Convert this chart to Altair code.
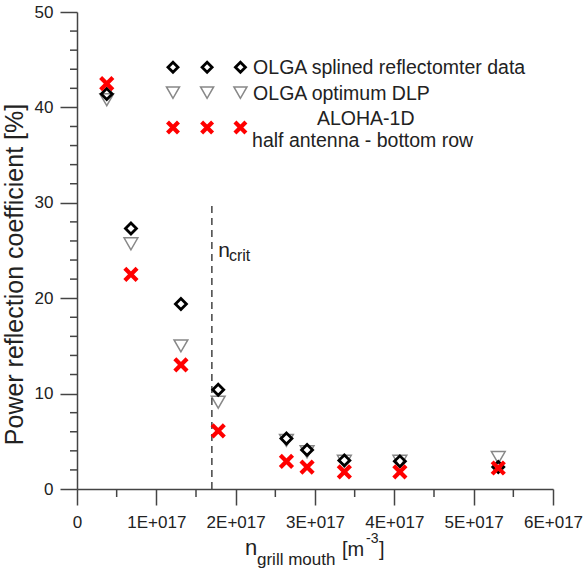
import altair as alt
import pandas as pd

# Electron density at the grill mouth [m^-3]
density = [0.375e17, 0.68e17, 1.31e17, 1.78e17, 2.64e17, 2.90e17, 3.37e17, 4.07e17, 5.31e17]
# Power reflection coefficient [%]
olga_splined = [41.4, 27.3, 19.4, 10.4, 5.3, 4.1, 3.0, 2.9, 2.3]
olga_dlp = [40.8, 25.7, 15.0, 9.1, 5.1, 3.9, 2.9, 2.9, 3.3]
aloha = [42.5, 22.5, 13.0, 6.1, 2.9, 2.3, 1.8, 1.8, 2.2]

# Critical density marker
n_crit = 1.70e17
n_crit_top = 30

# Legend layout (data coordinates)
legend_x = [1.21e17, 1.64e17, 2.06e17]
legend_rows = [44.2, 41.55, 37.9]
legend_text_x = 2.22e17

x_ticks = [0, 1e17, 2e17, 3e17, 4e17, 5e17, 6e17]
x_minor = [0.5e17, 1.5e17, 2.5e17, 3.5e17, 4.5e17, 5.5e17]
y_ticks = [0, 10, 20, 30, 40, 50]
y_minor = [v for v in range(0, 51, 2) if v % 10]

FONT = "Liberation Sans"
AX = "#444444"
TXT = "#222222"
CROSS = "M-1,-1L1,1M-1,1L1,-1"
PLOT_W = 476
PLOT_H = 477

df = pd.DataFrame({"n": density, "splined": olga_splined, "dlp": olga_dlp, "aloha": aloha})

xs = alt.Scale(domain=[0, 6e17], nice=False, zero=False)
ys = alt.Scale(domain=[0, 50], nice=False, zero=False)

x_main = alt.Axis(
    values=x_ticks, orient="bottom", title=None, grid=False,
    labelExpr="datum.value == 0 ? '0' : format(datum.value / 1e17, 'd') + 'E+017'",
    tickSize=16, tickWidth=1.5, tickColor=AX, domainColor=AX, domainWidth=1.5,
    labelFont=FONT, labelFontSize=17, labelColor=TXT, labelPadding=9,
    labelFlush=False, labelOverlap=False,
)
y_main = alt.Axis(
    values=y_ticks, orient="left", grid=False,
    title="Power reflection coefficient [%]", titleFont=FONT, titleFontSize=25,
    titleFontWeight="normal", titleColor=TXT, titleX=-63, titleY=262,
    titleAngle=-90, titleAlign="center", titleBaseline="middle",
    tickSize=17, tickWidth=1.5, tickColor=AX, domainColor=AX, domainWidth=1.5,
    labelFont=FONT, labelFontSize=17, labelColor=TXT, labelPadding=7,
    labelFlush=False, labelOverlap=False,
)

# Gray triangles first: this layer carries the axes
tri = alt.Chart(df).mark_point(
    shape="triangle-down", size=190, filled=False, stroke="#888888", strokeWidth=1.5, opacity=1
).encode(x=alt.X("n:Q", scale=xs, axis=x_main), y=alt.Y("dlp:Q", scale=ys, axis=y_main))

# Minor ticks drawn as short rules just outside the axes
x_minor_ticks = alt.Chart(pd.DataFrame({"v": x_minor})).mark_rule(
    color=AX, strokeWidth=1.5
).encode(
    x=alt.X("v:Q", scale=xs, axis=None),
    y=alt.value(PLOT_H), y2=alt.value(PLOT_H + 8),
)
y_minor_ticks = alt.Chart(pd.DataFrame({"v": y_minor})).mark_rule(
    color=AX, strokeWidth=1.5
).encode(
    y=alt.Y("v:Q", scale=ys, axis=None),
    x=alt.value(0), x2=alt.value(-7),
)

# Critical density line
crit = alt.Chart(pd.DataFrame({"n": [n_crit], "lo": [0], "hi": [n_crit_top]})).mark_rule(
    color=AX, strokeWidth=1.5, strokeDash=[7, 5]
).encode(
    x=alt.X("n:Q", scale=xs, axis=None),
    y=alt.Y("lo:Q", scale=ys, axis=None),
    y2="hi:Q",
)

dia = alt.Chart(df).mark_point(
    shape="diamond", size=120, filled=False, stroke="black", strokeWidth=2.8, opacity=1
).encode(x=alt.X("n:Q", scale=xs, axis=None), y=alt.Y("splined:Q", scale=ys, axis=None))

crs = alt.Chart(df).mark_point(
    shape=CROSS, size=150, filled=False, stroke="#ff0000", strokeWidth=4.2, opacity=1
).encode(x=alt.X("n:Q", scale=xs, axis=None), y=alt.Y("aloha:Q", scale=ys, axis=None))

# Legend symbols: three per row
leg_df = pd.DataFrame({
    "x": legend_x * 3,
    "y": [legend_rows[0]] * 3 + [legend_rows[1]] * 3 + [legend_rows[2]] * 3,
    "row": ["dia"] * 3 + ["tri"] * 3 + ["crs"] * 3,
})
leg_base = alt.Chart(leg_df).encode(
    x=alt.X("x:Q", scale=xs, axis=None), y=alt.Y("y:Q", scale=ys, axis=None)
)
leg_dia = leg_base.transform_filter("datum.row == 'dia'").mark_point(
    shape="diamond", size=100, filled=False, stroke="black", strokeWidth=2.8, opacity=1
)
leg_tri = leg_base.transform_filter("datum.row == 'tri'").mark_point(
    shape="triangle-down", size=170, filled=False, stroke="#888888", strokeWidth=1.5, opacity=1
)
leg_crs = leg_base.transform_filter("datum.row == 'crs'").mark_point(
    shape=CROSS, size=120, filled=False, stroke="#ff0000", strokeWidth=4.2, opacity=1
)

leg_txt_df = pd.DataFrame({
    "x": [legend_text_x, legend_text_x],
    "y": [legend_rows[0], legend_rows[1]],
    "t": ["OLGA splined reflectomter data", "OLGA optimum DLP"],
})
leg_txt = alt.Chart(leg_txt_df).mark_text(
    align="left", baseline="middle", font=FONT, fontSize=19.5, color=TXT, dy=1
).encode(x=alt.X("x:Q", scale=xs, axis=None), y=alt.Y("y:Q", scale=ys, axis=None), text="t:N")

aloha_txt_df = pd.DataFrame({
    "x": [3.64e17, 3.60e17],
    "y": [38.75, 36.45],
    "t": ["ALOHA-1D", "half antenna - bottom row"],
})
aloha_txt = alt.Chart(aloha_txt_df).mark_text(
    align="center", baseline="middle", font=FONT, fontSize=19.5, color=TXT
).encode(x=alt.X("x:Q", scale=xs, axis=None), y=alt.Y("y:Q", scale=ys, axis=None), text="t:N")

# n_crit annotation
crit_n = alt.Chart(pd.DataFrame({"x": [1.78e17], "y": [24.35], "t": ["n"]})).mark_text(
    align="left", baseline="alphabetic", font=FONT, fontSize=21, color=TXT
).encode(x=alt.X("x:Q", scale=xs, axis=None), y=alt.Y("y:Q", scale=ys, axis=None), text="t:N")
crit_sub = alt.Chart(pd.DataFrame({"x": [1.915e17], "y": [23.9], "t": ["crit"]})).mark_text(
    align="left", baseline="alphabetic", font=FONT, fontSize=16, color=TXT
).encode(x=alt.X("x:Q", scale=xs, axis=None), y=alt.Y("y:Q", scale=ys, axis=None), text="t:N")


def title_piece(text, px, py, fs):
    """One run of the x-axis title, placed in pixels below the plot."""
    return alt.Chart(pd.DataFrame({"t": [text]})).mark_text(
        align="left", baseline="alphabetic", font=FONT, fontSize=fs, color=TXT
    ).encode(x=alt.value(px), y=alt.value(py), text="t:N")


# x-axis title: n_grill mouth [m^-3]
x_title = [
    title_piece("n", 168, 543, 22),
    title_piece("grill mouth", 180, 553, 17),
    title_piece("[m", 265, 544, 20),
    title_piece("-3", 289, 531, 14),
    title_piece("]", 302, 544, 20),
]

chart = alt.layer(
    tri, x_minor_ticks, y_minor_ticks, crit, dia, crs,
    leg_tri, leg_dia, leg_crs, leg_txt, aloha_txt, crit_n, crit_sub, *x_title
).resolve_axis(
    x="independent", y="independent"
).properties(
    width=PLOT_W, height=PLOT_H, background="white",
    autosize=alt.AutoSizeParams(type="none"),
    padding={"left": 77, "top": 12, "right": 32, "bottom": 81},
).configure_view(stroke=None).configure_axis(grid=False)

chart.save("out.html", embed_options={"renderer": "svg", "actions": False})
